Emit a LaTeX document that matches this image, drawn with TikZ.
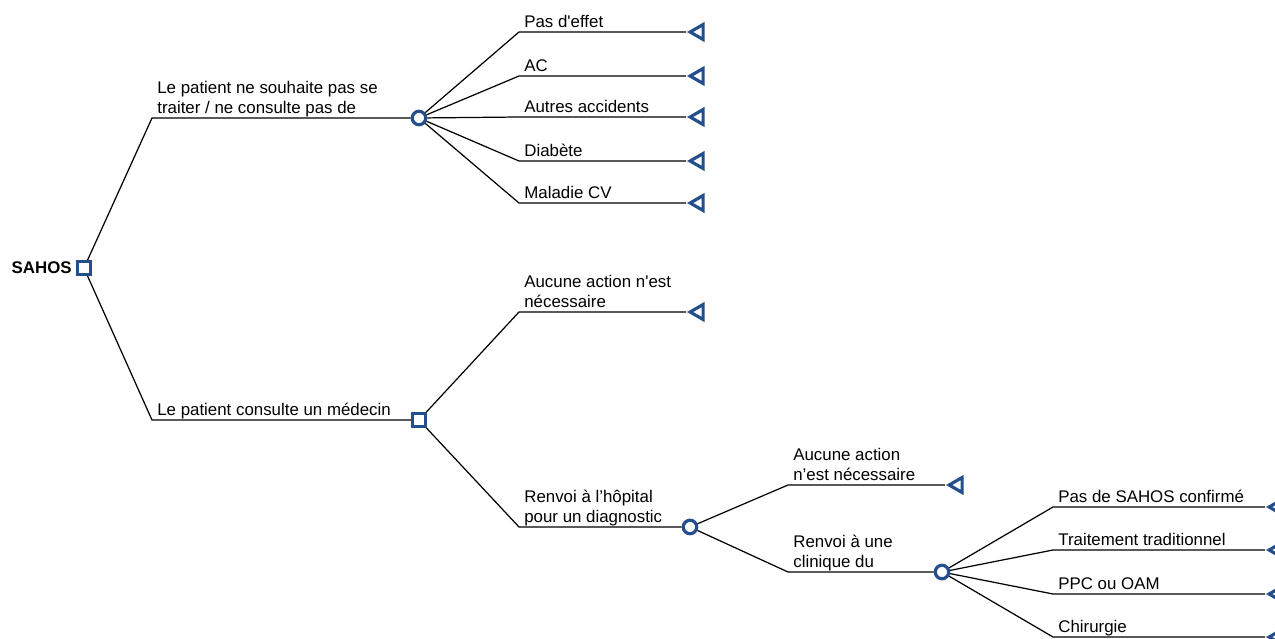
\documentclass[tikz,border=0pt]{standalone}
\usepackage{fontspec}
\setmainfont{Liberation Sans}
\usetikzlibrary{shapes.geometric}
\definecolor{treeblue}{RGB}{36,78,140}

\begin{document}
\begin{tikzpicture}[
    x=0.02cm, y=-0.02cm,
    font=\fontsize{9.6}{11.3}\selectfont,
    edge/.style={draw, line width=0.7pt},
    decision/.style={draw=treeblue, line width=1.8pt, fill=white, rectangle, minimum size=0.25cm, inner sep=0pt},
    chance/.style={draw=treeblue, line width=1.8pt, fill=white, circle, minimum size=0.27cm, inner sep=0pt},
    terminal/.style={draw=treeblue, line width=1.8pt, fill=white, isosceles triangle, isosceles triangle stretches,
        shape border rotate=180, minimum width=0.3cm, minimum height=0.26cm, inner sep=0pt, anchor=apex},
    lbl/.style={anchor=south west, align=left, inner sep=0pt, text depth=0pt}
]
    \useasboundingbox (0,0) rectangle (1275,639);

    % --- Root ---
    \node[decision] (root) at (84,268) {};
    \node[anchor=base east, inner sep=0pt, font=\fontsize{9.6}{11.3}\selectfont\bfseries] (rootlbl) at (72,273) {SAHOS};

    % --- Upper branch: no consultation ---
    \coordinate (sa) at (152,118);
    \node[chance] (ca) at (419,118) {};
    \draw[edge] (root) -- (sa) -- (ca);
    \node[lbl] (la) at (157,114) {Le patient ne souhaite pas se\\traiter / ne consulte pas de};

    \foreach \y/\t [count=\i] in {32/Pas d\textquotesingle effet, 76/AC, 117/Autres accidents, 161/Diabète, 203/Maladie CV} {
        \coordinate (sa\i) at (519,\y);
        \node[terminal] (ta\i) at (686,\y) {};
        \draw[edge] (ca) -- (sa\i) -- (ta\i);
        \node[lbl] (la\i) at (524,\y-4) {\t};
    }

    % --- Lower branch: consultation ---
    \coordinate (sb) at (152,420);
    \node[decision] (db) at (419,420) {};
    \draw[edge] (root) -- (sb) -- (db);
    \node[lbl] (lb) at (157,416) {Le patient consulte un médecin};

    \coordinate (sb1) at (519,312);
    \node[terminal] (tb1) at (686,312) {};
    \draw[edge] (db) -- (sb1) -- (tb1);
    \node[lbl] (lb1) at (524,308) {Aucune action n\textquotesingle est\\nécessaire};

    \coordinate (sb2) at (519,527);
    \node[chance] (cc) at (690,527) {};
    \draw[edge] (db) -- (sb2) -- (cc);
    \node[lbl] (lb2) at (524,523) {Renvoi à l’hôpital\\pour un diagnostic};

    % --- Hospital ---
    \coordinate (sc1) at (788,485);
    \node[terminal] (tc1) at (945,485) {};
    \draw[edge] (cc) -- (sc1) -- (tc1);
    \node[lbl] (lc1) at (793,481) {Aucune action\\n’est nécessaire};

    \coordinate (sc2) at (788,572);
    \node[chance] (cd) at (942,572) {};
    \draw[edge] (cc) -- (sc2) -- (cd);
    \node[lbl] (lc2) at (793,568) {Renvoi à une\\clinique du};

    % --- Clinic outcomes ---
    \foreach \y/\t [count=\i] in {507/Pas de SAHOS confirmé, 550/Traitement traditionnel, 594/PPC ou OAM, 637/Chirurgie} {
        \coordinate (sd\i) at (1053,\y);
        \node[terminal] (td\i) at (1265,\y) {};
        \draw[edge] (cd) -- (sd\i) -- (td\i);
        \node[lbl] (ld\i) at (1058,\y-4) {\t};
    }

\end{tikzpicture}
\end{document}
